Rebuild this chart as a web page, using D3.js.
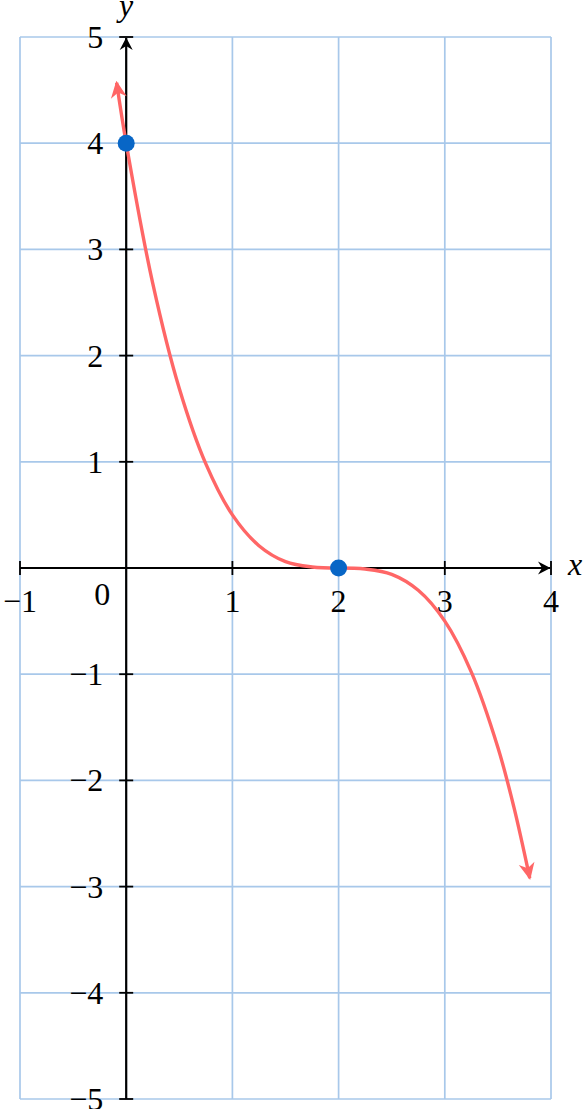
<!DOCTYPE html>
<html>
<head>
<meta charset="utf-8">
<script src="https://cdn.jsdelivr.net/npm/d3@7"></script>
<style>
  body { margin: 0; background: #fff; }
</style>
</head>
<body>
<div id="chart"></div>
<script>
var width = 585;
var height = 1109;
var serif = "'Liberation Serif', 'Times New Roman', 'DejaVu Serif', serif";

// tick values for both axes
var xTicks = [-1, 0, 1, 2, 3, 4];
var yTicks = [-5, -4, -3, -2, -1, 0, 1, 2, 3, 4, 5];

// points along the red curve
var curveX = [-0.09, 0, 0.25, 0.5, 0.75, 1, 1.25, 1.5, 1.75, 2, 2.25, 2.5, 2.75, 3, 3.25, 3.5, 3.65, 3.8];
var curveY = [4.57, 4, 2.68, 1.69, 0.98, 0.5, 0.21, 0.06, 0.01, 0, -0.01, -0.06, -0.21, -0.5, -0.98, -1.69, -2.25, -2.92];

// highlighted points
var dotX = [0, 2];
var dotY = [4, 0];

var x = d3.scaleLinear().domain([-1, 4]).range([20, 551]);
var y = d3.scaleLinear().domain([-5, 5]).range([1099, 37]);

var svg = d3.select("#chart").append("svg")
    .attr("width", width)
    .attr("height", height);

var defs = svg.append("defs");

// stealth-like arrow heads
defs.append("marker")
    .attr("id", "redArrow")
    .attr("markerUnits", "userSpaceOnUse")
    .attr("viewBox", "-18 -10 20 20")
    .attr("markerWidth", 20).attr("markerHeight", 20)
    .attr("refX", 0).attr("refY", 0)
    .attr("orient", "auto")
    .append("path")
    .attr("d", "M2,0 L-15,-8 L-10,0 L-15,8 Z")
    .attr("fill", "#ff6666");

defs.append("marker")
    .attr("id", "blackArrow")
    .attr("markerUnits", "userSpaceOnUse")
    .attr("viewBox", "-14 -8 16 16")
    .attr("markerWidth", 16).attr("markerHeight", 16)
    .attr("refX", 0).attr("refY", 0)
    .attr("orient", "auto")
    .append("path")
    .attr("d", "M0.5,0 L-12,-6.5 L-8,0 L-12,6.5 Z")
    .attr("fill", "#000");

// grid
var grid = svg.append("g").attr("class", "grid");
grid.selectAll("line.v").data(xTicks).enter().append("line")
    .attr("class", "v")
    .attr("x1", function(d) { return x(d); })
    .attr("x2", function(d) { return x(d); })
    .attr("y1", y(5)).attr("y2", y(-5))
    .attr("stroke", "#a8c8ea").attr("stroke-width", 1.7);
grid.selectAll("line.h").data(yTicks).enter().append("line")
    .attr("class", "h")
    .attr("y1", function(d) { return y(d); })
    .attr("y2", function(d) { return y(d); })
    .attr("x1", x(-1)).attr("x2", x(4))
    .attr("stroke", "#a8c8ea").attr("stroke-width", 1.7);

// axes
var axes = svg.append("g").attr("class", "axes");
axes.append("line")
    .attr("x1", x(-1)).attr("x2", x(4) - 1)
    .attr("y1", y(0)).attr("y2", y(0))
    .attr("stroke", "#000").attr("stroke-width", 2.2)
    .attr("marker-end", "url(#blackArrow)");
axes.append("line")
    .attr("x1", x(0)).attr("x2", x(0))
    .attr("y1", y(-5)).attr("y2", y(5) + 1)
    .attr("stroke", "#000").attr("stroke-width", 2.2)
    .attr("marker-end", "url(#blackArrow)");

// ticks (crossing the axes) including end bars
axes.selectAll("line.xt").data(xTicks.filter(function(d) { return d !== 0; })).enter().append("line")
    .attr("class", "xt")
    .attr("x1", function(d) { return x(d); })
    .attr("x2", function(d) { return x(d); })
    .attr("y1", y(0) - 7).attr("y2", y(0) + 7)
    .attr("stroke", "#000").attr("stroke-width", 1.8);
axes.selectAll("line.yt").data(yTicks.filter(function(d) { return d !== 0; })).enter().append("line")
    .attr("class", "yt")
    .attr("y1", function(d) { return y(d); })
    .attr("y2", function(d) { return y(d); })
    .attr("x1", x(0) - 7).attr("x2", x(0) + 7)
    .attr("stroke", "#000").attr("stroke-width", 1.8);

function fmt(d) { return d < 0 ? "\u2212" + Math.abs(d) : String(d); }

// tick labels
svg.append("g").selectAll("text").data(xTicks.filter(function(d) { return d !== 0; })).enter().append("text")
    .attr("x", function(d) { return x(d); })
    .attr("y", y(0) + 44)
    .attr("text-anchor", "middle")
    .attr("font-family", serif).attr("font-size", 32)
    .text(fmt);
svg.append("g").selectAll("text").data(yTicks.filter(function(d) { return d !== 0; })).enter().append("text")
    .attr("x", x(0) - 23)
    .attr("y", function(d) { return y(d) + 11; })
    .attr("text-anchor", "end")
    .attr("font-family", serif).attr("font-size", 32)
    .text(fmt);
svg.append("text")
    .attr("x", x(0) - 24).attr("y", y(0) + 37)
    .attr("text-anchor", "middle")
    .attr("font-family", serif).attr("font-size", 32)
    .text("0");

// axis names
svg.append("text")
    .attr("x", x(0)).attr("y", 16)
    .attr("text-anchor", "middle")
    .attr("font-family", serif).attr("font-size", 32).attr("font-style", "italic")
    .text("y");
svg.append("text")
    .attr("x", 575).attr("y", y(0) + 7)
    .attr("text-anchor", "middle")
    .attr("font-family", serif).attr("font-size", 32).attr("font-style", "italic")
    .text("x");

// curve, drawn from x = 2 outwards so both ends carry an arrow
var pts = curveX.map(function(d, i) { return [d, curveY[i]]; });
var line = d3.line()
    .x(function(d) { return x(d[0]); })
    .y(function(d) { return y(d[1]); })
    .curve(d3.curveCatmullRom.alpha(0.5));

var mid = curveX.indexOf(2);
var parts = [pts.slice(0, mid + 1).reverse(), pts.slice(mid)];

svg.append("g").selectAll("path").data(parts).enter().append("path")
    .attr("d", line)
    .attr("fill", "none")
    .attr("stroke", "#ff6666").attr("stroke-width", 3.4)
    .attr("marker-end", "url(#redArrow)");

// dots
svg.append("g").selectAll("circle").data(dotX).enter().append("circle")
    .attr("cx", function(d) { return x(d); })
    .attr("cy", function(d, i) { return y(dotY[i]); })
    .attr("r", 8.5)
    .attr("fill", "#0866c6");
</script>
</body>
</html>
